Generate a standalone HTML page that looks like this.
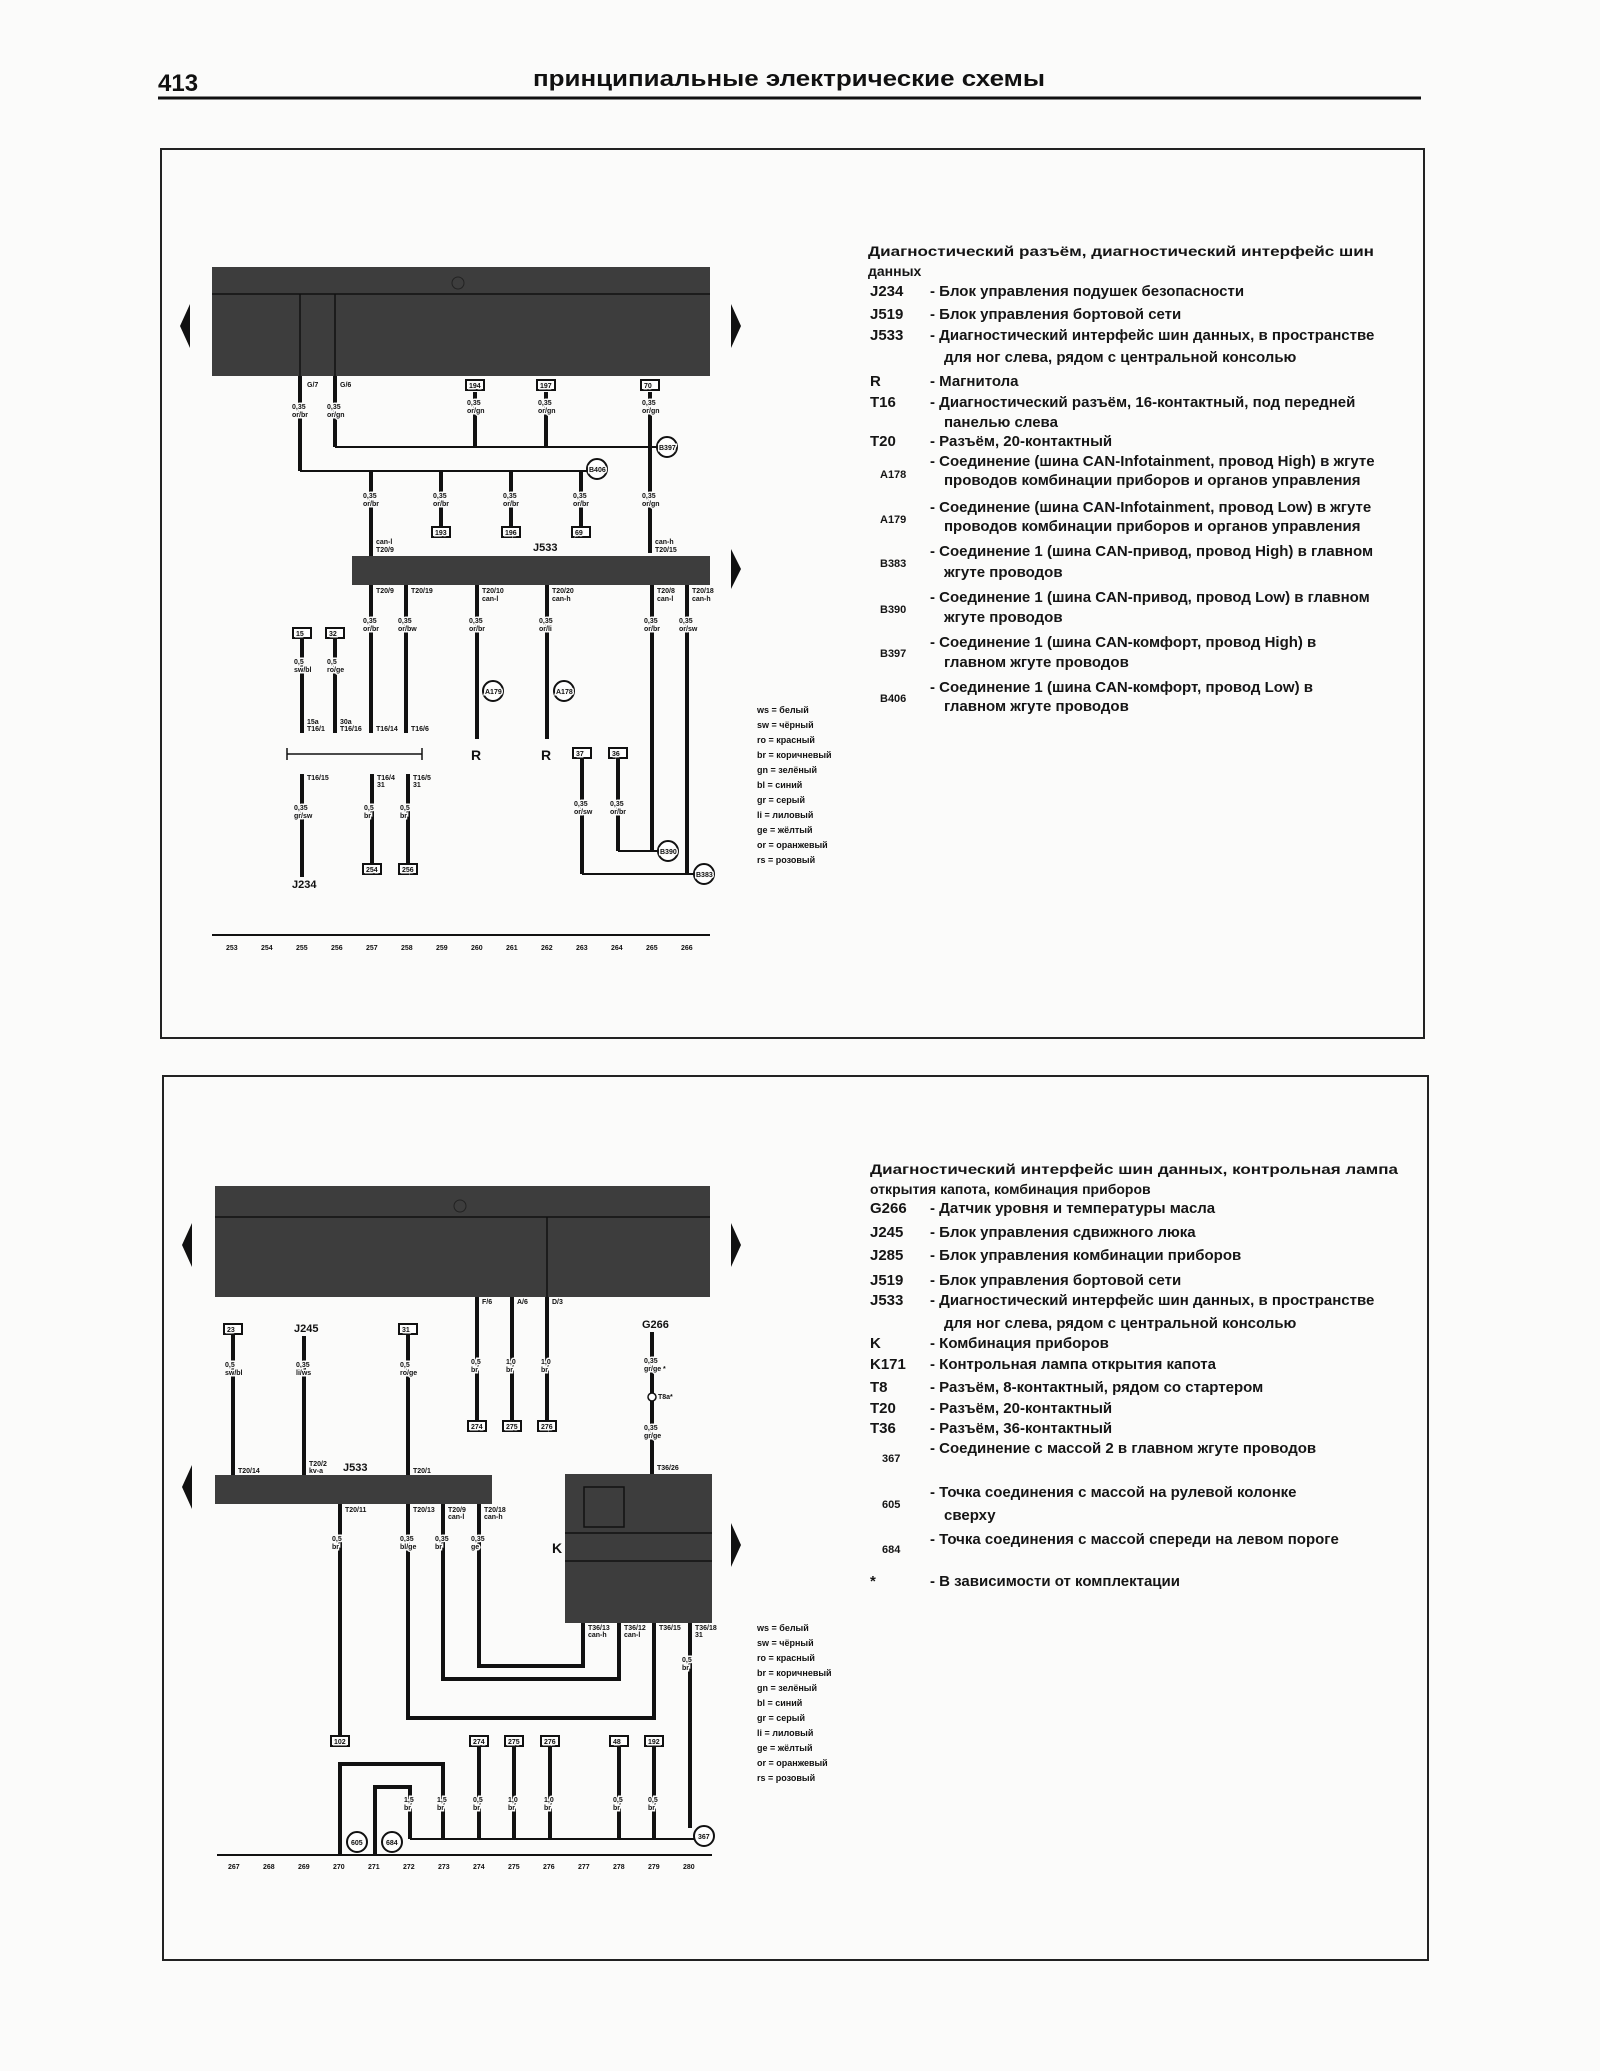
<!DOCTYPE html>
<html><head><meta charset="utf-8"><style>
html,body{margin:0;padding:0;background:#fbfbfa;}
svg{display:block}
.t{font-family:"Liberation Sans",sans-serif;font-weight:bold;fill:#111}
.s{font-family:"Liberation Sans",sans-serif;font-size:7px;font-weight:bold;fill:#111;paint-order:stroke;stroke:#fbfbfa;stroke-width:3px}
.l{font-family:"Liberation Sans",sans-serif;font-size:15px;font-weight:bold;fill:#151515}
.c{font-family:"Liberation Sans",sans-serif;font-size:11px;font-weight:bold;fill:#151515}
.w{stroke:#111;stroke-width:4;fill:none}
.h{stroke:#111;stroke-width:2;fill:none}
.box{fill:#3d3d3d}
.cir{fill:#fff;stroke:#111;stroke-width:2}
.nb{fill:#fff;stroke:#111;stroke-width:2}
</style></head><body>
<svg width="1600" height="2071" viewBox="0 0 1600 2071" xmlns="http://www.w3.org/2000/svg">
<text x="158" y="91" class="t" font-size="24">413</text>
<text x="533" y="86" class="t" font-size="22" textLength="512" lengthAdjust="spacingAndGlyphs">принципиальные электрические схемы</text>
<line x1="158" y1="98" x2="1421" y2="98" stroke="#111" stroke-width="3"/>

<rect x="161" y="149" width="1263" height="889" fill="none" stroke="#222" stroke-width="2"/>
<rect x="212" y="267" width="498" height="109" class="box"/>
<line x1="212" y1="294" x2="710" y2="294" stroke="#111" stroke-width="1.5"/>
<line x1="300" y1="294" x2="300" y2="376" stroke="#111" stroke-width="1.5"/>
<line x1="335" y1="294" x2="335" y2="376" stroke="#111" stroke-width="1.5"/>
<circle cx="458" cy="283" r="6" fill="none" stroke="#222"/>
<polygon points="190,304 180,326 190,348" fill="#111"/>
<polygon points="731,304 741,326 731,348" fill="#111"/>
<path class="w" d="M300 376V471 M335 376V447 M475 392V447 M546 392V447 M650 392V553"/>
<text x="307" y="387" class="s">G/7</text><text x="340" y="387" class="s">G/6</text>
<rect x="466" y="380" width="18" height="10" class="nb"/><text x="469" y="388" class="s">194</text>
<rect x="537" y="380" width="18" height="10" class="nb"/><text x="540" y="388" class="s">197</text>
<rect x="641" y="380" width="18" height="10" class="nb"/><text x="644" y="388" class="s">70</text>
<g class="s"><text x="292" y="409">0,35</text><text x="292" y="417">or/br</text>
<text x="327" y="409">0,35</text><text x="327" y="417">or/gn</text>
<text x="467" y="405">0,35</text><text x="467" y="413">or/gn</text>
<text x="538" y="405">0,35</text><text x="538" y="413">or/gn</text>
<text x="642" y="405">0,35</text><text x="642" y="413">or/gn</text></g>
<line class="h" x1="335" y1="447" x2="660" y2="447"/>
<circle cx="667" cy="447" r="10" class="cir"/><text x="659" y="450" class="s">B397</text>
<line class="h" x1="300" y1="471" x2="588" y2="471"/>
<circle cx="597" cy="469" r="10" class="cir"/><text x="589" y="472" class="s">B406</text>
<path class="w" d="M371 471V556 M441 471V528 M511 471V528 M581 471V528"/>
<g class="s"><text x="363" y="498">0,35</text><text x="363" y="506">or/br</text>
<text x="433" y="498">0,35</text><text x="433" y="506">or/br</text>
<text x="503" y="498">0,35</text><text x="503" y="506">or/br</text>
<text x="573" y="498">0,35</text><text x="573" y="506">or/br</text>
<text x="642" y="498">0,35</text><text x="642" y="506">or/gn</text></g>
<rect x="432" y="527" width="18" height="10" class="nb"/><text x="435" y="535" class="s">193</text>
<rect x="502" y="527" width="18" height="10" class="nb"/><text x="505" y="535" class="s">196</text>
<rect x="572" y="527" width="18" height="10" class="nb"/><text x="575" y="535" class="s">69</text>
<text x="376" y="544" class="s">can-l</text><text x="376" y="552" class="s">T20/9</text>
<text x="655" y="544" class="s">can-h</text><text x="655" y="552" class="s">T20/15</text>
<text x="533" y="551" class="t" font-size="11">J533</text>
<rect x="352" y="556" width="358" height="29" class="box"/>
<polygon points="731,549 741,569 731,589" fill="#111"/>
<path class="w" d="M371 585V733 M406 585V733 M477 585V739 M547 585V739 M652 585V851 M687 585V874"/>
<g class="s"><text x="376" y="593">T20/9</text><text x="411" y="593">T20/19</text>
<text x="482" y="593">T20/10</text><text x="482" y="601">can-l</text>
<text x="552" y="593">T20/20</text><text x="552" y="601">can-h</text>
<text x="657" y="593">T20/8</text><text x="657" y="601">can-l</text>
<text x="692" y="593">T20/18</text><text x="692" y="601">can-h</text>
<text x="363" y="623">0,35</text><text x="363" y="631">or/br</text>
<text x="398" y="623">0,35</text><text x="398" y="631">or/bw</text>
<text x="469" y="623">0,35</text><text x="469" y="631">or/br</text>
<text x="539" y="623">0,35</text><text x="539" y="631">or/li</text>
<text x="644" y="623">0,35</text><text x="644" y="631">or/br</text>
<text x="679" y="623">0,35</text><text x="679" y="631">or/sw</text></g>
<circle cx="493" cy="691" r="10" class="cir"/><text x="485" y="694" class="s">A179</text>
<circle cx="564" cy="691" r="10" class="cir"/><text x="556" y="694" class="s">A178</text>
<text x="471" y="760" class="t" font-size="14">R</text><text x="541" y="760" class="t" font-size="14">R</text>
<rect x="293" y="628" width="18" height="10" class="nb"/><text x="296" y="636" class="s">15</text>
<rect x="326" y="628" width="18" height="10" class="nb"/><text x="329" y="636" class="s">32</text>
<path class="w" d="M302 638V733 M335 638V733"/>
<g class="s"><text x="294" y="664">0,5</text><text x="294" y="672">sw/bl</text>
<text x="327" y="664">0,5</text><text x="327" y="672">ro/ge</text>
<text x="307" y="724">15a</text><text x="307" y="731">T16/1</text>
<text x="340" y="724">30a</text><text x="340" y="731">T16/16</text>
<text x="376" y="731">T16/14</text><text x="411" y="731">T16/6</text></g>
<line x1="287" y1="754" x2="422" y2="754" stroke="#111" stroke-width="1.5"/>
<line x1="287" y1="748" x2="287" y2="760" stroke="#111" stroke-width="1.5"/>
<line x1="422" y1="748" x2="422" y2="760" stroke="#111" stroke-width="1.5"/>
<path class="w" d="M302 774V877 M372 774V865 M408 774V865"/>
<g class="s"><text x="307" y="780">T16/15</text><text x="377" y="780">T16/4</text><text x="377" y="787">31</text>
<text x="413" y="780">T16/5</text><text x="413" y="787">31</text>
<text x="294" y="810">0,35</text><text x="294" y="818">gr/sw</text>
<text x="364" y="810">0,5</text><text x="364" y="818">br</text>
<text x="400" y="810">0,5</text><text x="400" y="818">br</text></g>
<rect x="363" y="864" width="18" height="10" class="nb"/><text x="366" y="872" class="s">254</text>
<rect x="399" y="864" width="18" height="10" class="nb"/><text x="402" y="872" class="s">256</text>
<text x="292" y="888" class="t" font-size="11">J234</text>
<rect x="573" y="748" width="18" height="10" class="nb"/><text x="576" y="756" class="s">37</text>
<rect x="609" y="748" width="18" height="10" class="nb"/><text x="612" y="756" class="s">36</text>
<path class="w" d="M582 758V874 M618 758V851"/>
<g class="s"><text x="574" y="806">0,35</text><text x="574" y="814">or/sw</text>
<text x="610" y="806">0,35</text><text x="610" y="814">or/br</text></g>
<line class="h" x1="618" y1="851" x2="660" y2="851"/>
<line class="h" x1="582" y1="874" x2="696" y2="874"/>
<circle cx="668" cy="851" r="10" class="cir"/><text x="660" y="854" class="s">B390</text>
<circle cx="704" cy="874" r="10" class="cir"/><text x="696" y="877" class="s">B383</text>
<g class="s" style="font-size:9px;stroke-width:0">
<text x="757" y="713">ws  = белый</text><text x="757" y="728">sw  = чёрный</text><text x="757" y="743">ro  = красный</text>
<text x="757" y="758">br  = коричневый</text><text x="757" y="773">gn  = зелёный</text><text x="757" y="788">bl  = синий</text>
<text x="757" y="803">gr  = серый</text><text x="757" y="818">li  = лиловый</text><text x="757" y="833">ge  = жёлтый</text>
<text x="757" y="848">or  = оранжевый</text><text x="757" y="863">rs  = розовый</text></g>
<line x1="212" y1="935" x2="710" y2="935" stroke="#111" stroke-width="2"/>
<g class="s"><text x="226" y="950">253</text><text x="261" y="950">254</text><text x="296" y="950">255</text><text x="331" y="950">256</text><text x="366" y="950">257</text><text x="401" y="950">258</text><text x="436" y="950">259</text><text x="471" y="950">260</text><text x="506" y="950">261</text><text x="541" y="950">262</text><text x="576" y="950">263</text><text x="611" y="950">264</text><text x="646" y="950">265</text><text x="681" y="950">266</text></g>
<text x="868" y="256" class="l" style="font-size:14px" textLength="506" lengthAdjust="spacingAndGlyphs">Диагностический разъём, диагностический интерфейс шин</text>
<text x="868" y="276" class="l" style="font-size:14px">данных</text>
<g class="l">
<text x="870" y="296">J234</text><text x="930" y="296">-  Блок управления подушек безопасности</text>
<text x="870" y="319">J519</text><text x="930" y="319">-  Блок управления бортовой сети</text>
<text x="870" y="340">J533</text><text x="930" y="340">- Диагностический интерфейс шин данных, в пространстве</text>
<text x="944" y="362">для ног слева, рядом с центральной консолью</text>
<text x="870" y="386">R</text><text x="930" y="386">-  Магнитола</text>
<text x="870" y="407">T16</text><text x="930" y="407">- Диагностический разъём, 16-контактный, под передней</text>
<text x="944" y="427">панелью слева</text>
<text x="870" y="446">T20</text><text x="930" y="446">-  Разъём, 20-контактный</text>
<text x="930" y="466">- Соединение (шина CAN-Infotainment, провод High) в жгуте</text>
<text x="944" y="485">проводов комбинации приборов и органов управления</text>
<text x="930" y="512">- Соединение (шина CAN-Infotainment, провод Low) в жгуте</text>
<text x="944" y="531">проводов комбинации приборов и органов управления</text>
<text x="930" y="556">-  Соединение 1 (шина CAN-привод, провод High) в главном</text>
<text x="944" y="577">жгуте проводов</text>
<text x="930" y="602">-  Соединение 1 (шина CAN-привод, провод Low) в главном</text>
<text x="944" y="622">жгуте проводов</text>
<text x="930" y="647">-  Соединение 1 (шина CAN-комфорт, провод High) в</text>
<text x="944" y="667">главном жгуте проводов</text>
<text x="930" y="692">-  Соединение 1 (шина CAN-комфорт, провод Low) в</text>
<text x="944" y="711">главном жгуте проводов</text></g>
<g class="c"><text x="880" y="478">A178</text><text x="880" y="523">A179</text><text x="880" y="567">B383</text><text x="880" y="613">B390</text><text x="880" y="657">B397</text><text x="880" y="702">B406</text></g>

<rect x="163" y="1076" width="1265" height="884" fill="none" stroke="#222" stroke-width="2"/>
<rect x="215" y="1186" width="495" height="111" class="box"/>
<line x1="215" y1="1217" x2="710" y2="1217" stroke="#111" stroke-width="1.5"/>
<line x1="547" y1="1217" x2="547" y2="1297" stroke="#111" stroke-width="1.5"/>
<circle cx="460" cy="1206" r="6" fill="none" stroke="#222"/>
<polygon points="192,1223 182,1245 192,1267" fill="#111"/>
<polygon points="731,1223 741,1245 731,1267" fill="#111"/>
<path class="w" d="M477 1297V1420 M512 1297V1420 M547 1297V1420"/>
<g class="s"><text x="482" y="1304">F/6</text><text x="517" y="1304">A/6</text><text x="552" y="1304">D/3</text>
<text x="471" y="1364">0,5</text><text x="471" y="1372">br</text><text x="506" y="1364">1,0</text><text x="506" y="1372">br</text><text x="541" y="1364">1,0</text><text x="541" y="1372">br</text></g>
<rect x="468" y="1421" width="18" height="10" class="nb"/><text x="471" y="1429" class="s">274</text>
<rect x="503" y="1421" width="18" height="10" class="nb"/><text x="506" y="1429" class="s">275</text>
<rect x="538" y="1421" width="18" height="10" class="nb"/><text x="541" y="1429" class="s">276</text>
<rect x="224" y="1324" width="18" height="10" class="nb"/><text x="227" y="1332" class="s">23</text>
<rect x="399" y="1324" width="18" height="10" class="nb"/><text x="402" y="1332" class="s">31</text>
<text x="294" y="1332" class="t" font-size="11">J245</text>
<text x="642" y="1328" class="t" font-size="11">G266</text>
<path class="w" d="M233 1334V1475 M304 1336V1475 M408 1334V1475 M652 1332V1474"/>
<g class="s"><text x="225" y="1367">0,5</text><text x="225" y="1375">sw/bl</text>
<text x="296" y="1367">0,35</text><text x="296" y="1375">li/ws</text>
<text x="400" y="1367">0,5</text><text x="400" y="1375">ro/ge</text>
<text x="644" y="1363">0,35</text><text x="644" y="1371">gr/ge *</text>
<text x="658" y="1399">T8a*</text>
<text x="644" y="1430">0,35</text><text x="644" y="1438">gr/ge</text>
<text x="238" y="1473">T20/14</text><text x="309" y="1466">T20/2</text><text x="309" y="1473">kv-a</text><text x="413" y="1473">T20/1</text><text x="657" y="1470">T36/26</text></g>
<circle cx="652" cy="1397" r="4" fill="#fff" stroke="#111" stroke-width="1.5"/>
<text x="343" y="1471" class="t" font-size="11">J533</text>
<rect x="215" y="1475" width="277" height="29" class="box"/>
<polygon points="192,1465 182,1487 192,1509" fill="#111"/>
<rect x="565" y="1474" width="147" height="149" class="box"/>
<line x1="565" y1="1533" x2="712" y2="1533" stroke="#111" stroke-width="1.5"/>
<line x1="565" y1="1561" x2="712" y2="1561" stroke="#111" stroke-width="1.5"/>
<rect x="584" y="1487" width="40" height="40" fill="none" stroke="#111" stroke-width="1.5"/>
<text x="552" y="1553" class="t" font-size="14">K</text>
<polygon points="731,1523 741,1545 731,1567" fill="#111"/>
<path class="w" d="M340 1504V1736 M408 1504V1718H654V1623 M443 1504V1679H619V1623 M479 1504V1666H583V1623 M690 1623V1828"/>
<g class="s"><text x="345" y="1512">T20/11</text><text x="413" y="1512">T20/13</text><text x="448" y="1512">T20/9</text><text x="448" y="1519">can-l</text><text x="484" y="1512">T20/18</text><text x="484" y="1519">can-h</text>
<text x="332" y="1541">0,5</text><text x="332" y="1549">br</text>
<text x="400" y="1541">0,35</text><text x="400" y="1549">bl/ge</text>
<text x="435" y="1541">0,35</text><text x="435" y="1549">br</text>
<text x="471" y="1541">0,35</text><text x="471" y="1549">ge</text>
<text x="588" y="1630">T36/13</text><text x="588" y="1637">can-h</text><text x="624" y="1630">T36/12</text><text x="624" y="1637">can-l</text><text x="659" y="1630">T36/15</text><text x="695" y="1630">T36/18</text><text x="695" y="1637">31</text>
<text x="682" y="1662">0,5</text><text x="682" y="1670">br</text></g>
<rect x="331" y="1736" width="18" height="10" class="nb"/><text x="334" y="1744" class="s">102</text>
<rect x="470" y="1736" width="18" height="10" class="nb"/><text x="473" y="1744" class="s">274</text>
<rect x="505" y="1736" width="18" height="10" class="nb"/><text x="508" y="1744" class="s">275</text>
<rect x="541" y="1736" width="18" height="10" class="nb"/><text x="544" y="1744" class="s">276</text>
<rect x="610" y="1736" width="18" height="10" class="nb"/><text x="613" y="1744" class="s">48</text>
<rect x="645" y="1736" width="18" height="10" class="nb"/><text x="648" y="1744" class="s">192</text>
<path class="w" d="M479 1746V1839 M514 1746V1839 M550 1746V1839 M619 1746V1839 M654 1746V1839"/>
<path class="w" d="M340 1855V1764H443V1839 M375 1855V1787H410V1839"/>
<line class="h" x1="410" y1="1839" x2="696" y2="1839"/>
<g class="s"><text x="404" y="1802">1,5</text><text x="404" y="1810">br</text><text x="437" y="1802">1,5</text><text x="437" y="1810">br</text>
<text x="473" y="1802">0,5</text><text x="473" y="1810">br</text><text x="508" y="1802">1,0</text><text x="508" y="1810">br</text><text x="544" y="1802">1,0</text><text x="544" y="1810">br</text>
<text x="613" y="1802">0,5</text><text x="613" y="1810">br</text><text x="648" y="1802">0,5</text><text x="648" y="1810">br</text></g>
<circle cx="357" cy="1842" r="10" class="cir"/><text x="351" y="1845" class="s">605</text>
<circle cx="392" cy="1842" r="10" class="cir"/><text x="386" y="1845" class="s">684</text>
<circle cx="704" cy="1836" r="10" class="cir"/><text x="698" y="1839" class="s">367</text>
<line x1="217" y1="1855" x2="712" y2="1855" stroke="#111" stroke-width="2"/>
<g class="s"><text x="228" y="1869">267</text><text x="263" y="1869">268</text><text x="298" y="1869">269</text><text x="333" y="1869">270</text><text x="368" y="1869">271</text><text x="403" y="1869">272</text><text x="438" y="1869">273</text><text x="473" y="1869">274</text><text x="508" y="1869">275</text><text x="543" y="1869">276</text><text x="578" y="1869">277</text><text x="613" y="1869">278</text><text x="648" y="1869">279</text><text x="683" y="1869">280</text></g>
<g class="s" style="font-size:9px;stroke-width:0">
<text x="757" y="1631">ws  = белый</text><text x="757" y="1646">sw  = чёрный</text><text x="757" y="1661">ro  = красный</text>
<text x="757" y="1676">br  = коричневый</text><text x="757" y="1691">gn  = зелёный</text><text x="757" y="1706">bl  = синий</text>
<text x="757" y="1721">gr  = серый</text><text x="757" y="1736">li  = лиловый</text><text x="757" y="1751">ge  = жёлтый</text>
<text x="757" y="1766">or  = оранжевый</text><text x="757" y="1781">rs  = розовый</text></g>
<text x="870" y="1174" class="l" style="font-size:14px" textLength="528" lengthAdjust="spacingAndGlyphs">Диагностический интерфейс шин данных, контрольная лампа</text>
<text x="870" y="1194" class="l" style="font-size:14px">открытия капота, комбинация приборов</text>
<g class="l">
<text x="870" y="1213">G266</text><text x="930" y="1213">-  Датчик уровня и температуры масла</text>
<text x="870" y="1237">J245</text><text x="930" y="1237">-  Блок управления сдвижного люка</text>
<text x="870" y="1260">J285</text><text x="930" y="1260">-  Блок управления комбинации приборов</text>
<text x="870" y="1285">J519</text><text x="930" y="1285">-  Блок управления бортовой сети</text>
<text x="870" y="1305">J533</text><text x="930" y="1305">- Диагностический интерфейс шин данных, в пространстве</text>
<text x="944" y="1328">для ног слева, рядом с центральной консолью</text>
<text x="870" y="1348">K</text><text x="930" y="1348">-  Комбинация приборов</text>
<text x="870" y="1369">K171</text><text x="930" y="1369">-  Контрольная лампа открытия капота</text>
<text x="870" y="1392">T8</text><text x="930" y="1392">-  Разъём, 8-контактный, рядом со стартером</text>
<text x="870" y="1413">T20</text><text x="930" y="1413">-  Разъём, 20-контактный</text>
<text x="870" y="1433">T36</text><text x="930" y="1433">-  Разъём, 36-контактный</text>
<text x="930" y="1453">-  Соединение с массой 2 в главном жгуте проводов</text>
<text x="930" y="1497">-  Точка соединения с массой на рулевой колонке</text>
<text x="944" y="1520">сверху</text>
<text x="930" y="1544">-  Точка соединения с массой спереди на левом пороге</text>
<text x="870" y="1586">*</text><text x="930" y="1586">-  В зависимости от комплектации</text></g>
<g class="c"><text x="882" y="1462">367</text><text x="882" y="1508">605</text><text x="882" y="1553">684</text></g>
</svg>
</body></html>
